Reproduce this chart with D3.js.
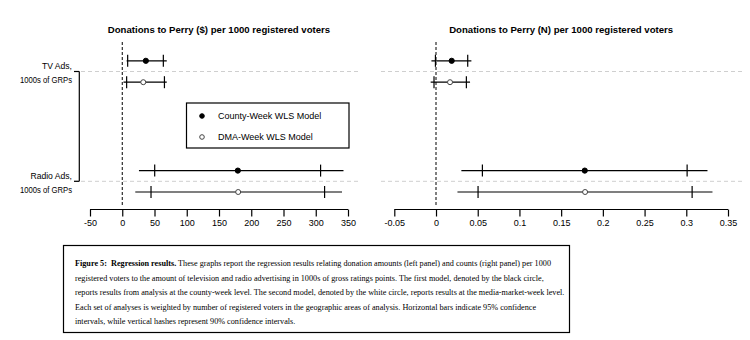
<!DOCTYPE html>
<html>
<head>
<meta charset="utf-8">
<script src="https://cdn.jsdelivr.net/npm/d3@7"></script>
<style>
  body { margin: 0; background: #fff; }
  svg text { font-family: "Liberation Sans", Arial, sans-serif; }
  .cap { font-family: "Liberation Serif", "Times New Roman", serif; }
</style>
</head>
<body>
<div id="chart"></div>
<script>
(function(){

    // categories (two text lines each) and models
    var categories = ["TV", "Radio"];
    var catLabels = [["TV Ads,", "1000s of GRPs"], ["Radio Ads,", "1000s of GRPs"]];
    var models = ["County-Week WLS Model", "DMA-Week WLS Model"];

    // left panel: donations ($) per 1000 registered voters
    // order: [TV county, TV DMA, Radio county, Radio DMA]
    var dollarEst  = [36.6, 32.6, 179.2, 179.7];
    var dollarLo90 = [8.4, 6.8, 50.3, 44.6];
    var dollarHi90 = [63.7, 65.4, 307.5, 313.7];
    var dollarLo95 = [6.8, 1.9, 25.9, 20.2];
    var dollarHi95 = [69, 69, 343, 340.7];
    var dollarTicks = [-50, 0, 50, 100, 150, 200, 250, 300, 350];

    // right panel: donations (N) per 1000 registered voters
    var countEst  = [0.0188, 0.0168, 0.1783, 0.1787];
    var countLo90 = [-0.0007, -0.0024, 0.0556, 0.0504];
    var countHi90 = [0.038, 0.0364, 0.301, 0.307];
    var countLo95 = [-0.0055, -0.0064, 0.0304, 0.0257];
    var countHi95 = [0.0424, 0.0408, 0.3254, 0.3314];
    var countTicks = [-0.05, 0, 0.05, 0.1, 0.15, 0.2, 0.25, 0.3, 0.35];

    var caption = [
        [["Figure 5:", true], ["\u00a0\u00a0Regression results.", true], [" These graphs report the regression results relating donation amounts (left panel) and counts (right panel) per 1000", false]],
        [["registered voters to the amount of television and radio advertising in 1000s of gross ratings points. The first model, denoted by the black circle,", false]],
        [["reports results from analysis at the county-week level. The second model, denoted by the white circle, reports results at the media-market-week level.", false]],
        [["Each set of analyses is weighted by number of registered voters in the geographic areas of analysis. Horizontal bars indicate 95% confidence", false]],
        [["intervals, while vertical hashes represent 90% confidence intervals.", false]]
    ];

    var width = 750, height = 340;
    var svg = d3.select("#chart").append("svg")
        .attr("width", width)
        .attr("height", height);

    // vertical placement of categories, models offset around them
    var y = d3.scalePoint().domain(categories).range([71.5, 181.3]);
    var modelOffset = d3.scalePoint().domain(models).range([-10.7, 10.7]);

    // plain hyphen for negatives, like R
    var rfmt = function(d) { return String(+d.toFixed(2)); };

    var panels = [
        { title: "Donations to Perry ($) per 1000 registered voters",
          domain: [-50, 350], range: [90, 348], plot: [74, 358], ticks: dollarTicks,
          est: dollarEst, lo90: dollarLo90, hi90: dollarHi90, lo95: dollarLo95, hi95: dollarHi95 },
        { title: "Donations to Perry (N) per 1000 registered voters",
          domain: [-0.05, 0.35], range: [394.3, 728], plot: [381, 742], ticks: countTicks,
          est: countEst, lo90: countLo90, hi90: countHi90, lo95: countLo95, hi95: countHi95 }
    ];

    var axisY = 209.5;

    panels.forEach(function(p) {
        var x = d3.scaleLinear().domain(p.domain).range(p.range);
        var g = svg.append("g");

        // title
        g.append("text")
            .attr("x", (p.range[0] + p.range[1]) / 2)
            .attr("y", 33)
            .attr("text-anchor", "middle")
            .attr("font-size", 9.6)
            .attr("font-weight", "bold")
            .text(p.title);

        // gray category guide lines
        g.selectAll(".guide").data(categories).enter().append("line")
            .attr("x1", p.plot[0]).attr("x2", p.plot[1])
            .attr("y1", function(d) { return y(d); })
            .attr("y2", function(d) { return y(d); })
            .attr("stroke", "#cfcfcf")
            .attr("stroke-dasharray", "4,3");

        // zero line
        g.append("line")
            .attr("x1", x(0)).attr("x2", x(0))
            .attr("y1", 42).attr("y2", 207)
            .attr("stroke", "#000")
            .attr("stroke-dasharray", "3,2");

        // rows: one per category x model
        var rows = [];
        categories.forEach(function(c, ci) {
            models.forEach(function(m, mi) {
                var i = ci * models.length + mi;
                rows.push({ cat: c, model: m, mi: mi, est: p.est[i],
                    lo90: p.lo90[i], hi90: p.hi90[i], lo95: p.lo95[i], hi95: p.hi95[i] });
            });
        });
        var ry = function(d) { return y(d.cat) + modelOffset(d.model); };

        g.selectAll(".ci95").data(rows).enter().append("line")
            .attr("x1", function(d) { return x(d.lo95); })
            .attr("x2", function(d) { return x(d.hi95); })
            .attr("y1", ry).attr("y2", ry)
            .attr("stroke", "#000").attr("stroke-width", 1.2);

        var hashes = [];
        rows.forEach(function(d) {
            hashes.push({ v: d.lo90, r: d });
            hashes.push({ v: d.hi90, r: d });
        });
        g.selectAll(".ci90").data(hashes).enter().append("line")
            .attr("x1", function(d) { return x(d.v); })
            .attr("x2", function(d) { return x(d.v); })
            .attr("y1", function(d) { return ry(d.r) - 6; })
            .attr("y2", function(d) { return ry(d.r) + 6; })
            .attr("stroke", "#000").attr("stroke-width", 1.2);

        g.selectAll(".pt").data(rows).enter().append("circle")
            .attr("cx", function(d) { return x(d.est); })
            .attr("cy", ry)
            .attr("r", function(d) { return d.mi === 0 ? 2.6 : 2.5; })
            .attr("fill", function(d) { return d.mi === 0 ? "#000" : "#fff"; })
            .attr("stroke", function(d) { return d.mi === 0 ? "#000" : "#444"; })
            .attr("stroke-width", 1);

        // x axis, R style: line from first to last tick, ticks downward
        var axis = d3.axisBottom(x).tickValues(p.ticks).tickFormat(rfmt)
            .tickSize(7).tickPadding(3).tickSizeOuter(0);
        var ag = g.append("g").attr("transform", "translate(0," + axisY + ")").call(axis);
        ag.select(".domain").attr("d", "M" + x(p.ticks[0]) + ",0H" + x(p.ticks[p.ticks.length - 1]))
            .attr("stroke-width", 1.2);
        ag.selectAll(".tick line").attr("stroke-width", 1.2);
        ag.selectAll("text").attr("font-size", 9).attr("font-family", "Liberation Sans, Arial, sans-serif")
            .attr("fill", "#000");
    });

    // category labels on the left with bracket
    var lab = svg.append("g");
    categories.forEach(function(c, ci) {
        lab.append("text").attr("x", 72).attr("y", y(c) - 2.5)
            .attr("text-anchor", "end").attr("font-size", 8.6).text(catLabels[ci][0]);
        lab.append("text").attr("x", 72).attr("y", y(c) + 11.5)
            .attr("text-anchor", "end").attr("font-size", 8.6)
            .attr("textLength", 52).attr("lengthAdjust", "spacingAndGlyphs")
            .text(catLabels[ci][1]);
        lab.append("line").attr("x1", 74).attr("x2", 79.3)
            .attr("y1", y(c)).attr("y2", y(c)).attr("stroke", "#000").attr("stroke-width", 1.2);
    });
    lab.append("line").attr("x1", 79.3).attr("x2", 79.3)
        .attr("y1", y(categories[0])).attr("y2", y(categories[1]))
        .attr("stroke", "#000").attr("stroke-width", 1.2);

    // legend
    var leg = svg.append("g");
    leg.append("rect").attr("x", 186.5).attr("y", 103).attr("width", 162.5).attr("height", 45)
        .attr("fill", "#fff").attr("stroke", "#000").attr("stroke-width", 1.2);
    models.forEach(function(m, mi) {
        var ly = 116 + mi * 21;
        leg.append("circle").attr("cx", 202).attr("cy", ly).attr("r", 2.3)
            .attr("fill", mi === 0 ? "#000" : "#fff")
            .attr("stroke", mi === 0 ? "#000" : "#444");
        leg.append("text").attr("x", 218).attr("y", ly + 3.2)
            .attr("font-size", 9).text(m);
    });

    // caption box
    var cap = svg.append("g");
    cap.append("rect").attr("x", 63.5).attr("y", 245.5).attr("width", 506).attr("height", 87)
        .attr("fill", "none").attr("stroke", "#000").attr("stroke-width", 1.2);
    caption.forEach(function(line, li) {
        var t = cap.append("text").attr("class", "cap")
            .attr("x", 75).attr("y", 266 + li * 14.6)
            .attr("font-size", 8.2);
        line.forEach(function(seg) {
            t.append("tspan").attr("font-weight", seg[1] ? "bold" : "normal").text(seg[0]);
        });
    });

})();
</script>
</body>
</html>
